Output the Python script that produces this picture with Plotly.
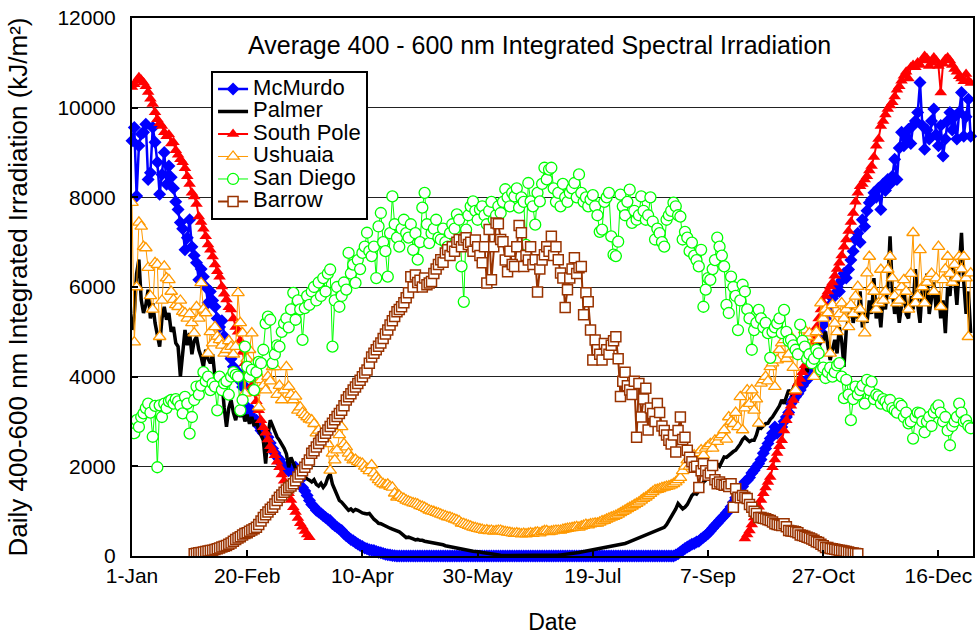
import plotly.graph_objects as go

# ---------------- data (day of year, 0 = 1-Jan) ----------------
tick_days = [0, 50, 100, 150, 200, 250, 300, 350]
tick_labels = ["1-Jan", "20-Feb", "10-Apr", "30-May", "19-Jul", "7-Sep", "27-Oct", "16-Dec"]
y_ticks = [0, 2000, 4000, 6000, 8000, 10000, 12000]
y_tick_labels = ["0", "2000", "4000", "6000", "8000", "10000", "12000"]

mcmurdo_start = 0
mcmurdo = [
    9260, 9560, 8030, 9150, 9410, 9450, 9630, 8400, 8550, 9560,
    9230, 8780, 8070, 8510, 9000, 8290, 8700, 8450, 8200, 7900,
    7730, 7440, 7300, 6830, 7100, 7500, 6900, 6700, 6540, 6160,
    6400, 6230, 6000, 5650, 5900, 5700, 5560, 5300, 5110, 5250,
    4900, 4660, 4500, 4400, 4220, 4050, 4100, 3900, 3770, 3780,
    3320, 3190, 3250, 3050, 3030, 2900, 2800, 2740, 2740, 2650,
    2520, 2400, 2300, 2210, 2150, 2050, 1980, 1950, 1900, 1910,
    1950, 1980, 1850, 1700, 1530, 1450, 1350, 1240, 1150, 1100,
    1020, 980, 950, 900, 860, 820, 790, 720, 680, 640,
    600, 570, 500, 450, 410, 370, 340, 300, 270, 235,
    210, 180, 160, 140, 130, 120, 100, 85, 70, 55,
    40, 30, 20, 10, 5, 0, 0, 0, 0, 0,
    0, 0, 0, 0, 0, 0, 0, 0, 0, 0, 0, 0, 0, 0, 0, 0, 0, 0, 0, 0,
    0, 0, 0, 0, 0, 0, 0, 0, 0, 0, 0, 0, 0, 0, 0, 0, 0, 0, 0, 0,
    0, 0, 0, 0, 0, 0, 0, 0, 0, 0, 0, 0, 0, 0, 0, 0, 0, 0, 0, 0,
    0, 0, 0, 0, 0, 0, 0, 0, 0, 0, 0, 0, 0, 0, 0, 0, 0, 0, 0, 0,
    0, 0, 0, 0, 0, 0, 0, 0, 0, 0, 0, 0, 0, 0, 0, 0, 0, 0, 0, 0,
    0, 0, 0, 0, 0, 0, 0, 0, 0, 0,
    0, 0, 0, 0, 0, 0, 20, 50, 90, 130,
    170, 200, 230, 260, 280, 310, 330, 380, 420, 460,
    500, 560, 620, 680, 730, 790, 850, 900, 960, 1020,
    1100, 1200, 1300, 1390, 1470, 1550, 1650, 1690, 1750, 1850,
    1910, 1990, 2060, 2150, 2290, 2400, 2510, 2620, 2740, 2880,
    2740, 2800, 2880, 3000, 3100, 3200, 3400, 3480, 3550, 3620,
    3700, 3800, 3880, 3930, 4100, 4300, 4450, 4600, 4800, 5000,
    5150, 5300, 5450, 5600, 5750, 5850, 6010, 5900, 6150, 6300,
    6200, 6390, 6600, 6800, 7060, 7200, 7000, 7500, 7350, 7700,
    7880, 7950, 8100, 8000, 8200, 7730, 8300, 8150, 8400, 8300,
    8470, 8850, 8400, 9100, 9450, 9150, 9300, 9520, 9200, 9600,
    9700, 9890, 10560, 9600, 9070, 9500, 9300, 9700, 9970, 9400,
    9150, 9600, 8920, 9300, 9700, 9890, 9500, 9800, 9300, 9900,
    10340, 9360, 9800, 10190, 9360,
]

palmer_start = 0
palmer = [
    5040, 5400, 6300, 6610, 5715, 5420, 5600, 5940, 5300, 5640,
    5200, 4890, 4670, 5300, 5560, 5270, 5420, 5000, 5110, 4750,
    4670, 4000, 4500, 5040, 4700, 4970, 4500, 4800, 4890, 4600,
    4440, 4220, 4600, 4400, 4300, 4500, 4000, 3780, 4100, 3900,
    3320, 2880, 3300, 3480, 3200, 3030, 3300, 3100, 3250, 3000,
    3150, 2950, 3100, 2900, 3030, 2800, 2700, 2580, 2060, 2700,
    3030, 2900, 2750, 2650, 2580, 2500, 2400, 2280, 1980, 2200,
    2050, 1950, 1900, 1830, 1800, 1750, 1720, 1690, 1650, 1700,
    1600, 1560, 1620, 1530, 1600, 1750, 1830, 1600, 1470, 1350,
    1240, 1200, 1150, 1080, 1020, 1050, 1000, 1040, 1020, 980,
    960, 950, 940, 950, 880, 820, 780, 730, 720, 690,
    660, 640, 620, 600, 580, 570, 540, 500, 460, 410,
    420, 390, 380, 360, 370, 350, 350, 330, 320, 310,
    300, 290, 285, 280, 260, 250, 230, 220, 200, 190,
    170, 160, 150, 140, 130, 125, 120, 110, 105, 100,
    100, 90, 80, 70, 60, 50, 40, 30, 20, 20,
    15, 10, 10, 8, 5, 5, 5, 5, 5, 5,
    5, 5, 5, 5, 5, 5, 5, 5, 5, 8,
    10, 10, 12, 15, 18, 20, 25, 30, 35, 40,
    45, 50, 60, 70, 80, 90, 100, 110, 120, 130,
    140, 150, 160, 170, 180, 190, 195, 200, 210, 220,
    230, 240, 250, 260, 280, 300, 320, 340, 360, 390,
    410, 430, 450, 460, 480, 500, 520, 540, 570, 600,
    620, 640, 700, 780, 860, 950, 1050, 1170, 1100, 1050,
    1090, 1150, 1250, 1350, 1400, 1380, 1450, 1550, 1650, 1690,
    1750, 1850, 1950, 1980, 2050, 2000, 2100, 2210, 2200, 2250,
    2300, 2330, 2360, 2420, 2500, 2600, 2650, 2600, 2550, 2580,
    2580, 2700, 2880, 2850, 2900, 2950, 2960, 3050, 3100, 3180,
    3250, 3350, 3480, 3400, 3550, 3700, 3630, 3750, 3850, 3900,
    4000, 4150, 4300, 4100, 4450, 4600, 4500, 4700, 4650, 4800,
    4820, 5000, 4700, 4370, 4600, 4820, 4520, 5100, 4800, 4220,
    5040, 5300, 5600, 5200, 5500, 5300, 5900, 5100, 5450, 5200,
    5700, 5400, 6200, 5300, 5600, 5100, 5800, 5500, 6000, 7130,
    5900, 5400, 5700, 5200, 5600, 6000, 5400, 5300, 5800, 5500,
    6400, 5600, 5200, 6000, 5700, 6300, 5400, 5800, 6100, 5500,
    5900, 5300, 5700, 4970, 6000, 5800, 6500, 6200, 5600, 6400,
    7210, 6100, 5400, 5900, 4970,
]

south_pole_a_start = 0
south_pole_a = [
    10460, 10520, 10600, 10680, 10620, 10560, 10480, 10350, 10200, 10080,
    9900, 9740, 9650, 9590, 9450, 9360, 9400, 9200, 9230, 9050,
    8950, 8850, 8780, 8650, 8470, 8300, 8100, 8020, 7850, 7570,
    7450, 7300, 7130, 6950, 6830, 6680, 6500, 6350, 6230, 6010,
    5850, 5720, 5550, 5500, 5300, 5110, 5000, 4800, 4550, 4300,
    4100, 3950, 3800, 3630, 3450, 3250, 3030, 2870, 2750, 2600,
    2450, 2360, 2250, 2100, 1980, 1820, 1680, 1530, 1400, 1250,
    1090, 980, 850, 730, 650, 560, 480, 420,
]
south_pole_b_start = 266
south_pole_b = [
    390, 480, 570, 700,
    860, 1000, 1100, 1250, 1400, 1530, 1650, 1760, 1980, 2150,
    2300, 2450, 2580, 2800, 3030, 3200, 3350, 3480, 3650, 3850,
    3950, 4100, 4250, 4400, 4520, 4700, 4900, 5100, 5300, 5500,
    5650, 5800, 5900, 6010, 6100, 6250, 6400, 6540, 6700, 6900,
    7060, 7250, 7450, 7650, 7900, 8100, 8250, 8300, 8400, 8470,
    8600, 8700, 8900, 9150, 9300, 9590, 9700, 9850, 9970, 10050,
    10120, 10250, 10400, 10480, 10600, 10710, 10800, 10650, 10900, 10950,
    10900, 11010, 10950, 11050, 11150, 11100, 10930, 11000, 11120, 11050,
    10930, 10340, 10980, 11080, 11120, 11050, 10950, 10860, 10800, 10700,
    10650, 10590, 10750, 10600, 10550,
]

ushuaia_start = 0
ushuaia = [
    7880, 4770, 6000, 7440, 7350, 6900, 6870, 6430, 5800, 5500,
    6540, 6500, 4890, 5700, 6460, 6200, 6160, 5900, 5720, 5600,
    5560, 5700, 5450, 5420, 5300, 5400, 5200, 4970, 5560, 5300,
    6090, 5500, 5420, 4520, 5000, 4750, 5110, 4900, 4820, 4700,
    4520, 4600, 4800, 4670, 4500, 4670, 5870, 5200, 4970, 3630,
    4400, 4600, 4970, 4300, 4100, 3320, 3930, 3800, 3700, 4000,
    3900, 4220, 4220, 3600, 3800, 3480, 3700, 4220, 3780, 3600,
    3480, 3560, 3250, 3320, 3200, 3150, 3100, 3050, 3030, 2950,
    2740, 2800, 2700, 2650, 2580, 2500, 1910, 2290, 2140, 2360,
    2700, 2880, 2500, 2430, 2290, 2200, 2140, 2150, 2100, 2080,
    2060, 2000, 1950, 1900, 2030, 1850, 1760, 1700, 1650, 1610,
    1580, 1600, 1550, 1530, 1400, 1310, 1350, 1300, 1280, 1240,
    1220, 1200, 1180, 1170, 1150, 1120, 1100, 1080, 1050, 1020,
    1000, 990, 970, 950, 930, 910, 890, 870, 860, 840,
    820, 800, 780, 730, 720, 700, 680, 660, 640, 630,
    610, 600, 590, 570, 580, 560, 570, 550, 560, 570,
    570, 550, 540, 530, 520, 510, 500, 510, 500, 490,
    500, 490, 500, 510, 500, 520, 530, 510, 540, 560,
    560, 540, 550, 560, 570, 570, 570, 590, 600, 610,
    620, 630, 640, 650, 640, 660, 680, 700, 690, 710,
    720, 730, 730, 750, 780, 790, 820, 840, 860, 880,
    900, 930, 960, 990, 1020, 1050, 1080, 1110, 1140, 1170,
    1200, 1240, 1280, 1310, 1350, 1390, 1430, 1470, 1480, 1500,
    1520, 1530, 1550, 1560, 1580, 1610, 1650, 1700, 1750, 1900,
    2000, 2140, 2000, 2200, 2250, 2100, 2300, 2360, 2250, 2400,
    2450, 2500, 2400, 2580, 2550, 2650, 2700, 2810, 2600, 3100,
    3000, 2950, 3200, 2880, 3550, 2810, 3300, 3700, 3400, 3700,
    3250, 3500, 2960, 3850, 3930, 4000, 3900, 4220, 4300, 3780,
    4370, 4600, 4750, 4820, 4400, 4500, 4890, 4200, 3700, 4600,
    4700, 4800, 5040, 4890, 4970, 4600, 4000, 5000, 4820, 5640,
    5300, 5500, 5420, 4520, 5600, 5190, 5000, 5400, 5640, 5300,
    5500, 5110, 5600, 5400, 5790, 6010, 5500, 5300, 4970, 6310,
    6680, 6000, 5900, 5500, 5640, 6390, 5700, 5900, 6390, 6680,
    6200, 5800, 5640, 5700, 6000, 6160, 5900, 5500, 6300, 7210,
    5640, 5800, 6830, 6000, 5640, 6100, 6230, 6300, 5900, 6200,
    6900, 5560, 6160, 6400, 6680, 6300, 6100, 6500, 6200, 6680,
    6400, 6680, 6200, 4890, 6310,
]

san_diego_start = 0
san_diego = [
    2920, 2740, 3030, 2880, 3100, 3180, 3300, 3400, 3200, 2660,
    3350, 1980, 3360, 3100, 3400, 3300, 3450, 3480, 3400, 3500,
    3450, 3350, 3180, 3550, 3400, 2730, 3100, 3480, 3780, 3600,
    3800, 4100, 3900, 4000, 3700, 3850, 3780, 3250, 4000, 3700,
    3850, 3900, 3600, 4000, 4100, 4040, 4000, 3250, 3480, 4670,
    4220, 4000, 4150, 3700, 4100, 4330, 4300, 4600, 5190, 5340,
    5270, 4300, 4500, 4700, 4670, 5000, 5190, 5300, 5100, 5500,
    5870, 5270, 5700, 5500, 4820, 5530, 5800, 5600, 5900, 6000,
    5700, 6100, 5800, 6200, 5900, 6300, 6390, 4670, 5700, 6000,
    5560, 5800, 6100, 5940, 6760, 6300, 6500, 6090, 6600, 6400,
    6760, 6900, 7210, 6800, 6690, 6900, 6200, 7350, 7650, 7000,
    6800, 6230, 7200, 8020, 7400, 7100, 6900, 7300, 7500, 7200,
    7100, 7400, 6830, 7200, 6610, 7000, 7770, 8100, 7400, 6980,
    7200, 7300, 7500, 7100, 7060, 7300, 7000, 6900, 7200, 7400,
    7300, 7620, 7500, 6460, 5670, 7280, 7600, 7800, 7910, 7700,
    7500, 7730, 7800, 7600, 7400, 7700, 7900, 7500, 7600, 7800,
    7650, 7900, 8180, 8000, 7800, 8100, 8020, 8200, 7770, 8000,
    7900, 6940, 8320, 7910, 7800, 7390, 8100, 7910, 8300, 8660,
    8400, 8620, 8660, 8200, 7900, 8100, 7800, 8300, 8000, 7900,
    8100, 8200, 8320, 8000, 8510, 8100, 7900, 8000, 7800, 7950,
    8050, 7800, 7600, 7230, 7280, 7900, 8000, 8100, 7130, 6720,
    6690, 7010, 8060, 7800, 7600, 7900, 8170, 7430, 7700, 7500,
    7600, 8020, 7700, 7500, 7600, 8000, 7460, 7060, 7300, 7200,
    7000, 6900, 7500, 7600, 7700, 7880, 7800, 7600, 7570, 7060,
    7230, 7100, 6800, 6990, 6700, 6600, 6460, 6830, 5560, 5940,
    6200, 6160, 6400, 6600, 7100, 6900, 6700, 6460, 5600, 5420,
    6230, 6000, 5800, 5040, 5700, 6050, 5900, 5500, 5300, 4600,
    5040, 5200, 5490, 5300, 5100, 5200, 4970, 4420, 5000, 5100,
    5190, 5300, 4970, 5490, 5000, 4800, 4820, 4700, 4600, 4500,
    5160, 4800, 4670, 4400, 4500, 4300, 4400, 4600, 4520, 4150,
    4200, 3970, 4100, 4200, 4000, 4100, 4250, 4300, 4000, 3520,
    3930, 3600, 3030, 3500, 3780, 3600, 3700, 3800, 3400, 3930,
    3700, 3890, 3500, 3600, 3560, 3400, 3500, 3450, 3350, 3480,
    3300, 3250, 3200, 3400, 3350, 3100, 3200, 2960, 3000, 2620,
    3100, 3200, 3180, 3000, 2760, 3000, 3100, 2900, 3200, 3300,
    3360, 3200, 3000, 3100, 2800, 2470, 2900, 3000, 3100, 3400,
    3200, 3000, 3030, 2900, 2850,
]

barrow_start = 27
barrow = [
    50, 60, 70,
    80, 90, 100, 110, 120, 130, 145, 160, 180, 200,
    215, 235, 260, 290, 330, 370, 400, 430, 470, 500,
    520, 550, 580, 610, 640, 700, 780, 860, 920, 980,
    1040, 1090, 1160, 1240, 1310, 1360, 1420, 1470, 1520, 1560,
    1610, 1680, 1760, 1830, 1900, 1980, 2060, 2140, 2290, 2350,
    2430, 2510, 2590, 2660, 2740, 2810, 2890, 2960, 3040, 3110,
    3180, 3250, 3350, 3480, 3550, 3620, 3700, 3770, 3850, 3920,
    4000, 4080, 4150, 4300, 4440, 4520, 4600, 4680, 4750, 4850,
    4950, 5040, 5150, 5250, 5340, 5450, 5500, 5560, 5650, 5760,
    5870, 6230, 6000, 6270, 6100, 6150, 6000, 6200, 6050, 6090,
    6120, 6300, 6400, 6500, 6610, 6550, 6760, 6830, 6700, 6900,
    6800, 7000, 7060, 6900, 7050, 7100, 6950, 7000, 6800, 7050,
    6900, 6700, 6540, 6900, 6090, 7280, 6160, 6900, 7430, 7410,
    7060, 7010, 6600, 6340, 6800, 6500, 6460, 6900, 7370, 7210,
    6460, 6700, 6600, 6900, 6500, 6610, 5890, 6400, 6600, 6720,
    6900, 6800, 7130, 6700, 6900, 6610, 6310, 6200, 5540, 5940,
    6200, 6400, 6650, 6300, 6430, 6460, 5380, 5870, 5670, 5040,
    4370, 4820, 4600, 4500, 4370, 4740, 4600, 4500, 4700, 4800,
    4890, 4400, 3560, 3900, 4100, 3800, 3700, 3600, 3900, 2650,
    3850, 3100, 3500, 3740, 2810, 3300, 3180, 3000, 3400, 3200,
    2900, 2800, 2700, 2580, 2500, 2700, 2320, 2800, 3100, 2600,
    2650, 2360, 2200, 2100, 1980, 2000, 1530, 1900, 2060, 1900,
    1800, 1850, 2020, 1700, 1610, 1650, 1600, 1580, 1600, 1550,
    1610, 1090, 1500, 1310, 1300, 1350, 1310, 1280, 1150, 1090,
    1000, 950, 860, 860, 840, 830, 810, 790, 760, 720,
    700, 690, 680, 720, 650, 570, 560, 550, 540, 520,
    470, 460, 440, 420, 400, 380, 350, 320, 300, 260,
    230, 190, 190, 170, 160, 150, 140, 130, 120, 110,
    100, 90, 75, 65, 55, 50,
]

# ---------------- figure ----------------
FONT = "Liberation Sans, Arial, sans-serif"
LEG_TXT = '<span style="font-size:22px">{}</span>'


def days(start, vals):
    return list(range(start, start + len(vals)))


fig = go.Figure()

fig.add_trace(go.Scatter(
    x=days(mcmurdo_start, mcmurdo), y=mcmurdo, name=LEG_TXT.format("McMurdo"),
    mode="lines+markers", cliponaxis=False,
    line=dict(color="#0000FF", width=2.5),
    marker=dict(symbol="diamond", size=10, color="#0000FF"),
))
fig.add_trace(go.Scatter(
    x=days(palmer_start, palmer), y=palmer, name=LEG_TXT.format("Palmer"),
    mode="lines", line=dict(color="#000000", width=3.5),
))
sp_x = days(south_pole_a_start, south_pole_a) + [None] + days(south_pole_b_start, south_pole_b)
sp_y = south_pole_a + [None] + south_pole_b
fig.add_trace(go.Scatter(
    x=sp_x, y=sp_y, name=LEG_TXT.format("South Pole"), mode="lines+markers",
    connectgaps=False,
    line=dict(color="#FF0000", width=2),
    marker=dict(symbol="triangle-up", size=11, color="#FF0000"),
))
fig.add_trace(go.Scatter(
    x=days(ushuaia_start, ushuaia), y=ushuaia, name=LEG_TXT.format("Ushuaia"),
    mode="lines+markers",
    line=dict(color="#FF9900", width=1),
    marker=dict(symbol="triangle-up", size=11, color="#FFFFFF",
                line=dict(color="#FF9900", width=1.3)),
))
fig.add_trace(go.Scatter(
    x=days(san_diego_start, san_diego), y=san_diego, name=LEG_TXT.format("San Diego"),
    mode="lines+markers",
    line=dict(color="#00FF00", width=1),
    marker=dict(symbol="circle", size=11, color="#FFFFFF",
                line=dict(color="#00FF00", width=1.3)),
))
fig.add_trace(go.Scatter(
    x=days(barrow_start, barrow), y=barrow, name=LEG_TXT.format("Barrow"),
    mode="lines+markers",
    line=dict(color="#993300", width=2),
    marker=dict(symbol="square", size=10, color="#FFFFFF",
                line=dict(color="#993300", width=1.5)),
))

fig.update_layout(
    width=980, height=639,
    margin=dict(l=132, r=5, t=18, b=83),
    paper_bgcolor="white", plot_bgcolor="white",
    font=dict(family=FONT, size=22, color="black"),
    showlegend=True,
    legend=dict(
        x=0.094, y=0.902, xanchor="left", yanchor="top",
        bgcolor="white", bordercolor="black", borderwidth=2,
        font=dict(family=FONT, size=15, color="black"),
        tracegroupgap=0, itemwidth=30,
    ),
    annotations=[dict(
        text="Average 400 - 600 nm Integrated Spectral Irradiation",
        x=0.484, y=0.95, xref="paper", yref="paper",
        xanchor="center", yanchor="middle", showarrow=False,
        font=dict(family=FONT, size=25, color="black"),
    )],
)

fig.update_xaxes(
    range=[0, 365], tickvals=tick_days, ticktext=tick_labels,
    showgrid=False, zeroline=False,
    showline=True, linecolor="black", linewidth=2, mirror=True,
    ticks="inside", ticklen=6, tickwidth=1.5, tickcolor="black",
    tickfont=dict(family=FONT, size=21),
    title=dict(text="Date", font=dict(family=FONT, size=23), standoff=28),
)
fig.update_yaxes(
    range=[0, 12000], tickvals=y_ticks, ticktext=y_tick_labels,
    showgrid=True, gridcolor="#222222", gridwidth=1, zeroline=False,
    showline=True, linecolor="black", linewidth=2, mirror=True,
    ticks="inside", ticklen=6, tickwidth=1.5, tickcolor="black",
    tickfont=dict(family=FONT, size=21), ticklabelstandoff=10,
    title=dict(text="Daily 400-600 nm Integrated Irradiation (kJ/m²)",
               font=dict(family=FONT, size=26), standoff=22),
)

fig.write_html("out.html", config={"displayModeBar": False},
               post_script="document.body.style.margin='0';")
